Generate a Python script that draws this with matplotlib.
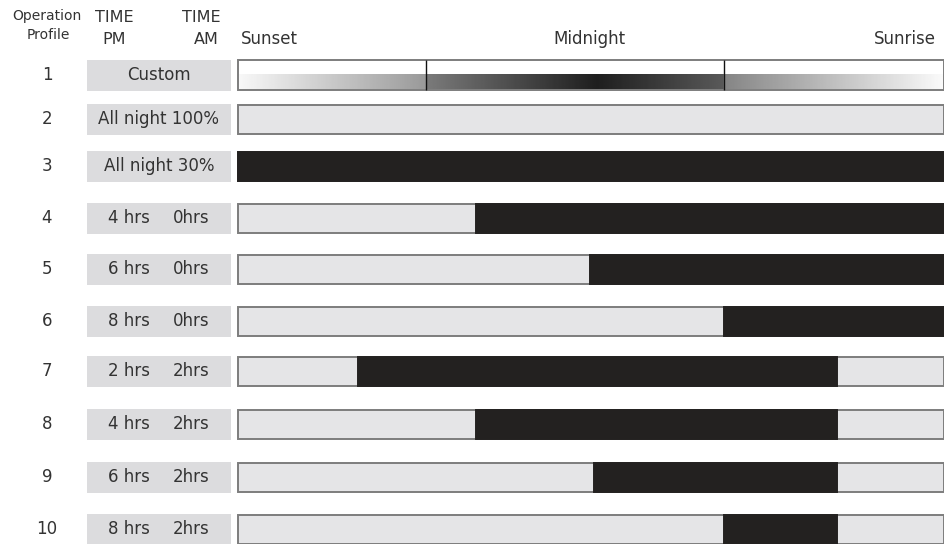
import numpy as np
import matplotlib
matplotlib.use("Agg")
import matplotlib.pyplot as plt

plt.rcParams['font.family'] = ['DejaVu Sans']

# data (hours after sunset, night = 12 h)
night_hours = 12
profiles = ['1', '2', '3', '4', '5', '6', '7', '8', '9', '10']
pm_labels = ['Custom', 'All night 100%', 'All night 30%', '4 hrs', '6 hrs', '8 hrs',
             '2 hrs', '4 hrs', '6 hrs', '8 hrs']
am_labels = ['', '', '', '0hrs', '0hrs', '0hrs', '2hrs', '2hrs', '2hrs', '2hrs']
dim_start = [None, None, 0, 4.05, 5.98, 8.26, 2.04, 4.05, 6.05, 8.26]
dim_end = [None, None, 12, 12, 12, 12, 10.18, 10.18, 10.18, 10.18]
custom_marks = [3.2, 8.26]
time_ticks = [0, 5.98, 12]
time_names = ['Sunset', 'Midnight', 'Sunrise']

# layout (pixels)
W, H = 945, 544
row_y = [75, 119, 166, 218, 269, 321, 371, 424, 477, 529]
bar_h = 29
txt = '#333333'
light = '#e5e5e7'
dark = '#232120'
edge = '#7d7d7d'
fs = 12

fig = plt.figure(figsize=(W / 100, H / 100), dpi=100)

# left table
axl = fig.add_axes([0, 0, 238 / W, 1])
axl.set_xlim(0, 238)
axl.set_ylim(H, 0)
axl.axis('off')
axl.barh(row_y, 144, left=87, height=31, color='#dcdcde', linewidth=0)
axl.text(47, 16, 'Operation', ha='center', va='center', fontsize=10, color=txt)
axl.text(48, 35, 'Profile', ha='center', va='center', fontsize=10, color=txt)
axl.text(114, 17, 'TIME', ha='center', va='center', fontsize=11.5, color=txt)
axl.text(114, 39, 'PM', ha='center', va='center', fontsize=11.5, color=txt)
axl.text(221, 17, 'TIME', ha='right', va='center', fontsize=11.5, color=txt)
axl.text(219, 39, 'AM', ha='right', va='center', fontsize=11.5, color=txt)
for i, y in enumerate(row_y):
    axl.text(47, y, profiles[i], ha='center', va='center', fontsize=fs, color=txt)
    if am_labels[i]:
        axl.text(129, y, pm_labels[i], ha='center', va='center', fontsize=fs, color=txt)
        axl.text(191, y, am_labels[i], ha='center', va='center', fontsize=fs, color=txt)
    else:
        axl.text(159, y, pm_labels[i], ha='center', va='center', fontsize=fs, color=txt)

# timeline
ax = fig.add_axes([238 / W, 0, (944 - 238) / W, 1])
ax.set_xlim(0, night_hours)
ax.set_ylim(H, 0)
ax.axis('off')

for t, name, ha in zip(time_ticks, time_names, ['left', 'center', 'right']):
    x = t + (0.05 if ha == 'left' else (-0.14 if ha == 'right' else 0))
    ax.text(x, 39.5, name, ha=ha, va='center', fontsize=fs, color=txt)

# custom profile: white box with gradient in lower half
y0 = row_y[0]
ax.barh(y0, night_hours, left=0, height=bar_h + 1, color='white', edgecolor=edge,
        linewidth=1.4, clip_on=False, zorder=2)
gx = np.linspace(0, night_hours, 600)
stops_x = [0, 3.2, 3.2, 6.1, 8.26, 8.26, 12]
stops_v = [0.97, 0.6, 0.48, 0.12, 0.35, 0.52, 0.98]
grad = np.interp(gx, stops_x, stops_v)[None, :]
ax.imshow(grad, cmap='gray', vmin=0, vmax=1, aspect='auto', interpolation='bilinear',
          extent=(0.02, night_hours - 0.02, y0 + bar_h / 2 - 0.5, y0 - 1), zorder=3)
for m in custom_marks:
    ax.vlines(m, y0 - bar_h / 2 - 0.5, y0 + bar_h / 2 + 0.5, color='#111111', linewidth=1, zorder=4)
ax.set_xlim(0, night_hours)
ax.set_ylim(H, 0)

for i in range(1, len(profiles)):
    y = row_y[i]
    ax.barh(y, night_hours, left=0, height=bar_h, color=light, edgecolor=edge,
            linewidth=1.4, clip_on=False, zorder=2)
    if dim_start[i] is not None:
        ax.barh(y, dim_end[i] - dim_start[i], left=dim_start[i], height=bar_h,
                color=dark, edgecolor=dark, linewidth=1.4, clip_on=False, zorder=3)

fig.savefig('out.png', dpi=100)
